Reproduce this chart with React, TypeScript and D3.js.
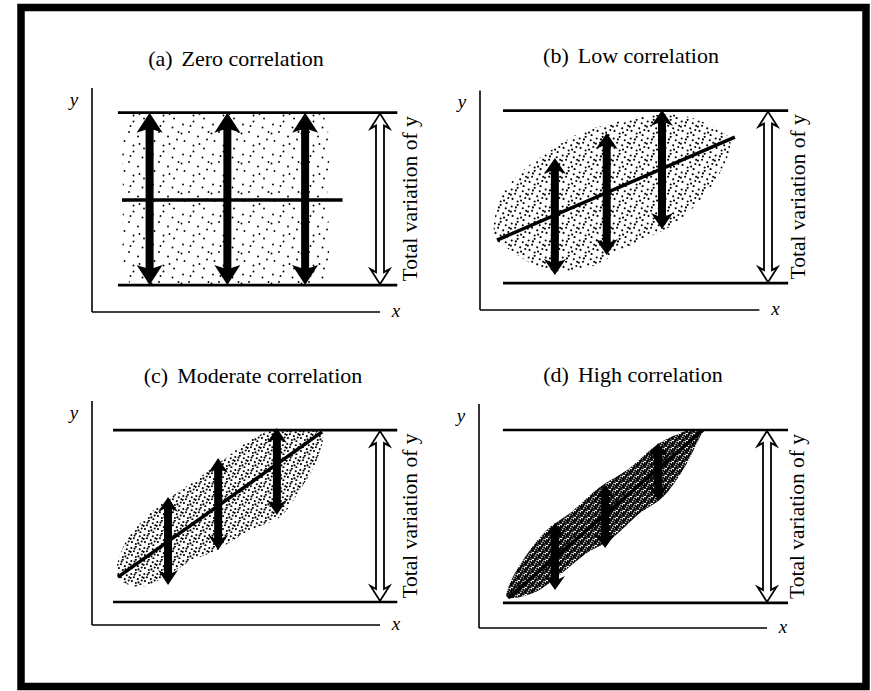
import * as d3 from "d3";

type Pt = [number, number];

const W = 871;
const H = 691;

// panel texts
const panelLetters = ["(a)", "(b)", "(c)", "(d)"];
const panelNames = ["Zero correlation", "Low correlation", "Moderate correlation", "High correlation"];
const sideLabel = "Total variation of y";

// axis lengths (data units, origin at axis corner)
const axisXMax = [100, 97, 100, 100];
const axisYMax = [100, 98, 100, 100];

// the two horizontal lines bounding total variation of y
const bandTop = [89, 89, 87, 88.4];
const bandBottom = [12, 12, 10.3, 11.2];
const bandLeft = [9, 8, 7.3, 8.3];
const bandRight = [106, 107, 106, 107.3];
const totalArrowX = [100, 100, 100, 100];

// regression lines
const regStart: Pt[] = [[10.4, 50], [5.9, 31.2], [9, 21.4], [10.1, 13.4]];
const regEnd: Pt[] = [[87, 50], [88.5, 77.2], [79.9, 86.2], [77.8, 88.4]];

// solid double arrows (unexplained variation)
const arrowX = [[20, 47, 74], [26, 44, 63.2], [26.4, 43.8, 64.2], [26.4, 43.8, 62.2]];
const arrowLow = [[12, 12, 12], [15.6, 24.6, 36.2], [17.9, 33.5, 49.1], [17, 35.7, 57.1]];
const arrowHigh = [[89, 89, 89], [67.9, 79, 89.3], [57.1, 74.6, 87.9], [46.9, 63.8, 82.6]];

// outlines of the scatter clouds
const cloudA: Pt[] = [
  [14.9, 91], [46.5, 92], [78.5, 91], [81.9, 50], [78.5, 9.8], [46.5, 8.9], [14.9, 9.8], [10.8, 50],
];
const cloudB: Pt[] = [
  [5.2, 32.6], [10.4, 26.8], [23.3, 17.9], [38.2, 19.2], [51, 28.1], [69.4, 40.2], [83.3, 61.2],
  [86.8, 75.9], [80.9, 81.7], [69.4, 87], [55.6, 86.2], [46.2, 83.5], [34.7, 79], [23.3, 70.1],
  [13.9, 61.2], [6.9, 49.1],
];
const cloudC: Pt[] = [
  [9, 21.4], [16.7, 17], [35.1, 29], [43.4, 33.5], [54.9, 42.4], [65.3, 48.2], [72.2, 60.3],
  [78.1, 73.7], [79.9, 85.7], [73.3, 87], [62.8, 87], [54.9, 82.6], [46.9, 75], [37.5, 66.1],
  [26, 55.8], [17.7, 46.9], [10.8, 34.8],
];
const cloudD: Pt[] = [
  [9.7, 13.8], [18.8, 15.6], [27.1, 22.8], [37.5, 33.5], [45.5, 39.3], [55.9, 51.3], [63.9, 58.5],
  [70.8, 70.5], [76.7, 85.3], [77.8, 88.4], [73.3, 88.4], [62.8, 82.6], [51.4, 70.5], [42, 62.9],
  [31.6, 51.3], [23.6, 43.8], [15.3, 30.4], [10.8, 20.1],
];
const clouds = [cloudA, cloudB, cloudC, cloudD];

// layout (pixels)
const origins: Pt[] = [[92, 312], [480, 310], [92, 625], [479, 628]];
const titlePos: Pt[] = [[236, 66], [631, 63], [253, 383], [633, 382]];
const unitX = 2.88;
const unitY = 2.24;
const tileSize = [30, 17, 13, 7];
const dotR = [0.95, 1.05, 1.05, 1.15];
const headW = [26, 22, 20, 20];
const headL = [20, 16, 15, 14];

// hand placed stipple for one 20x20 tile
const stipple: Pt[] = [
  [2, 3], [9, 1], [15, 5], [6, 8], [12, 11], [18, 13], [3, 14], [9, 17], [16, 19], [1, 9], [13, 16], [7, 4],
  [19, 8],
];

const serif = "Liberation Serif, Times New Roman, DejaVu Serif, serif";

// vertical double-headed arrow outline (pixels)
const doubleArrow = (x: number, y1: number, y2: number, sw: number, hw: number, hl: number) => {
  const top = Math.min(y1, y2);
  const bot = Math.max(y1, y2);
  const p = d3.path();
  p.moveTo(x, top);
  p.lineTo(x + hw / 2, top + hl);
  p.lineTo(x + sw / 2, top + hl - 3);
  p.lineTo(x + sw / 2, bot - hl + 3);
  p.lineTo(x + hw / 2, bot - hl);
  p.lineTo(x, bot);
  p.lineTo(x - hw / 2, bot - hl);
  p.lineTo(x - sw / 2, bot - hl + 3);
  p.lineTo(x - sw / 2, top + hl - 3);
  p.lineTo(x - hw / 2, top + hl);
  p.closePath();
  return p.toString();
};

const Panel = ({ i }: { i: number }) => {
  const [ox, oy] = origins[i];
  const x = d3.scaleLinear().domain([0, 100]).range([ox, ox + 100 * unitX]);
  const y = d3.scaleLinear().domain([0, 100]).range([oy, oy - 100 * unitY]);
  const cloudPath = d3
    .line<Pt>()
    .x((d) => x(d[0]))
    .y((d) => y(d[1]))
    .curve(d3.curveCatmullRomClosed.alpha(0.5))(clouds[i]) || "";
  const tx = x(totalArrowX[i]);
  const labelX = tx + 37;
  const midY = (y(bandTop[i]) + y(bandBottom[i])) / 2;

  return (
    <g>
      <defs>
        <clipPath id={`band-${i}`}>
          <rect
            x={x(0)}
            y={y(bandTop[i]) + 1}
            width={x(100) - x(0)}
            height={y(bandBottom[i]) - y(bandTop[i]) - 2}
          />
        </clipPath>
      </defs>
      <text x={titlePos[i][0]} y={titlePos[i][1]} textAnchor="middle" style={{ fontFamily: serif, fontSize: 22 }}>
        <tspan>{panelLetters[i]}</tspan>
        <tspan dx={9}>{panelNames[i]}</tspan>
      </text>

      {/* axes */}
      <line x1={x(0)} y1={y(0)} x2={x(0)} y2={y(axisYMax[i])} stroke="#000" strokeWidth={1.6} />
      <line x1={x(0)} y1={y(0)} x2={x(axisXMax[i])} y2={y(0)} stroke="#000" strokeWidth={1.6} />
      <text
        x={x(0) - 18}
        y={y(axisYMax[i]) + 18}
        textAnchor="middle"
        style={{ fontFamily: serif, fontSize: 19, fontStyle: "italic" }}
      >
        y
      </text>
      <text
        x={x(axisXMax[i]) + 16}
        y={y(0) + 5}
        textAnchor="middle"
        style={{ fontFamily: serif, fontSize: 19, fontStyle: "italic" }}
      >
        x
      </text>

      {/* cloud */}
      <path d={cloudPath} fill={`url(#dots-${i})`} clipPath={`url(#band-${i})`} />

      {/* band lines */}
      {[bandTop[i], bandBottom[i]].map((v, k) => (
        <line key={k} x1={x(bandLeft[i])} x2={x(bandRight[i])} y1={y(v)} y2={y(v)} stroke="#000" strokeWidth={2.6} />
      ))}

      {/* regression line */}
      <line
        x1={x(regStart[i][0])}
        y1={y(regStart[i][1])}
        x2={x(regEnd[i][0])}
        y2={y(regEnd[i][1])}
        stroke="#000"
        strokeWidth={3.5}
      />

      {/* solid arrows */}
      {arrowX[i].map((ax, k) => (
        <path key={k} d={doubleArrow(x(ax), y(arrowLow[i][k]), y(arrowHigh[i][k]), 8, headW[i], headL[i])} fill="#000" />
      ))}

      {/* total variation arrow */}
      <path
        d={doubleArrow(tx, y(bandBottom[i]) - 1, y(bandTop[i]) + 1, 8, 19, 15)}
        fill="#fff"
        stroke="#000"
        strokeWidth={1.8}
      />
      <text
        transform={`translate(${labelX},${midY}) rotate(-90)`}
        textAnchor="middle"
        style={{ fontFamily: serif, fontSize: 21.5 }}
      >
        {sideLabel}
      </text>
    </g>
  );
};

const App = () => {
  return (
    <svg width={W} height={H} style={{ position: "absolute", left: 0, top: 0, background: "#fff" }}>
      <defs>
        {tileSize.map((t, i) => (
          <pattern key={i} id={`dots-${i}`} patternUnits="userSpaceOnUse" width={t} height={t}>
            {stipple.map((d, k) => (
              <circle key={k} cx={(d[0] * t) / 20} cy={(d[1] * t) / 20} r={dotR[i]} fill="#000" />
            ))}
          </pattern>
        ))}
      </defs>
      <rect x={0} y={0} width={W} height={H} fill="#fff" />
      <rect x={21} y={7.5} width={845} height={679} fill="none" stroke="#000" strokeWidth={7.5} />
      {[0, 1, 2, 3].map((i) => (
        <Panel key={i} i={i} />
      ))}
    </svg>
  );
};

export default App;
